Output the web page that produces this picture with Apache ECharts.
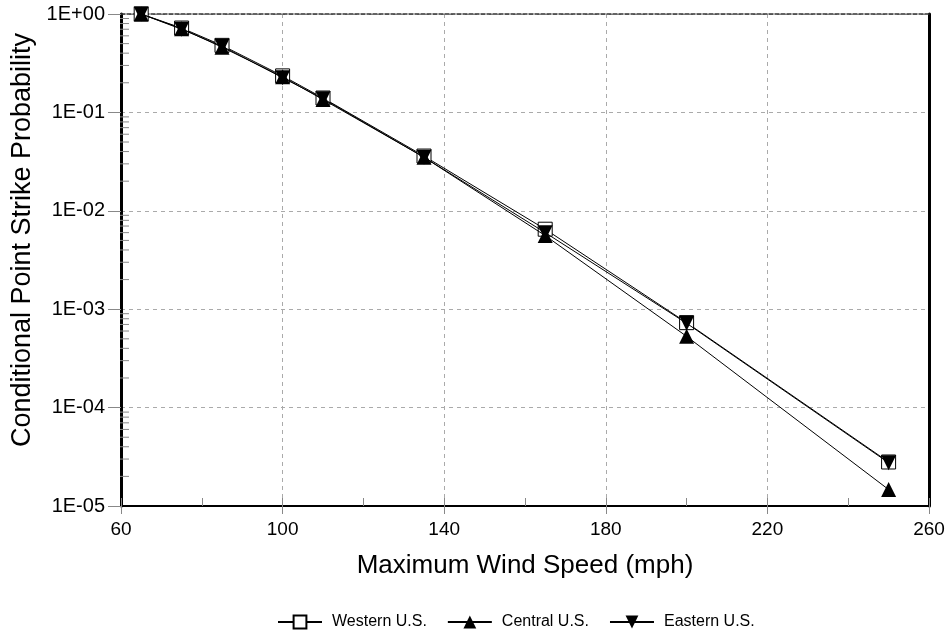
<!DOCTYPE html>
<html><head><meta charset="utf-8">
<script src="https://cdn.jsdelivr.net/npm/echarts@6/dist/echarts.min.js"></script>
<style>html,body{margin:0;padding:0;background:#fff}#c{width:951px;height:636px}</style>
</head><body><div id="c"></div>
<script>
var windSpeed = [65, 75, 85, 100, 110, 135, 165, 200, 250];
var western = [1, 0.72, 0.48, 0.235, 0.14, 0.036, 0.0065, 0.00073, 2.8e-5];
var central = [1, 0.71, 0.46, 0.23, 0.135, 0.035, 0.0056, 0.00053, 1.47e-5];
var eastern = [1, 0.70, 0.47, 0.225, 0.138, 0.035, 0.006, 0.00072, 2.75e-5];
var seriesNames = ['Western U.S.', 'Central U.S.', 'Eastern U.S.'];
var xTicks = [60, 100, 140, 180, 220, 260];
var yMin = 1e-5, yMax = 1;

var minorY = [];
for (var d = -5; d < 0; d++) for (var k = 2; k <= 9; k++) minorY.push([60, k * Math.pow(10, d)]);

function pair(xs, ys) { return xs.map(function (x, i) { return [x, ys[i]]; }); }
function fmtE(v) {
  var e = Math.round(Math.log10(v));
  var a = Math.abs(e);
  return '1E' + (e >= 0 ? '+' : '-') + (a < 10 ? '0' : '') + a;
}
var FONT = 'Liberation Sans';
var chart = echarts.init(document.getElementById('c'));
var lineStyle = { color: '#000', width: 1 };
chart.setOption({
  animation: false,
  textStyle: { fontFamily: FONT },
  grid: { left: 121, right: 22, top: 14, bottom: 130, show: false },
  legend: {
    top: 609, left: 272, itemWidth: 44, itemHeight: 16, itemGap: 20,
    textStyle: { fontFamily: FONT, fontSize: 16, color: '#000', padding: [0, 0, 0, 5] },
    data: seriesNames
  },
  xAxis: [{
    type: 'value', min: 60, max: 260, interval: 40, position: 'bottom',
    name: 'Maximum Wind Speed (mph)', nameLocation: 'middle', nameGap: 47,
    nameTextStyle: { fontFamily: FONT, fontSize: 26, color: '#000' },
    axisLine: { show: true, lineStyle: { color: '#000', width: 2 } },
    axisTick: { show: true, length: 8, lineStyle: { color: '#888', width: 1 } },
    axisLabel: { margin: 14, fontFamily: FONT, fontSize: 19, color: '#000' },
    splitLine: { show: true, lineStyle: { color: '#aaa', type: [4, 4], width: 1 } }
  }, {
    type: 'value', min: 60, max: 260, interval: 20, position: 'bottom',
    axisLine: { show: false }, axisLabel: { show: false }, splitLine: { show: false },
    axisTick: { show: true, inside: true, length: 8, lineStyle: { color: '#888', width: 1 } }
  }, {
    type: 'value', min: 60, max: 260, interval: 40, position: 'top',
    axisLine: { show: true, lineStyle: { color: '#333', width: 1.5, type: [4, 2] } },
    axisTick: { show: false }, axisLabel: { show: false }, splitLine: { show: false }
  }],
  yAxis: [{
    type: 'log', logBase: 10, min: yMin, max: yMax, position: 'left',
    name: 'Conditional Point Strike Probability', nameLocation: 'middle', nameGap: 84,
    nameTextStyle: { fontFamily: FONT, fontSize: 27, color: '#000', padding: [0, 0, 0, 40] },
    axisLine: { show: true, lineStyle: { color: '#000', width: 3 } },
    axisTick: { show: true, length: 13, lineStyle: { color: '#888', width: 1 } },
    axisLabel: { margin: 16, fontFamily: FONT, fontSize: 20, color: '#000', formatter: fmtE },
    splitLine: { show: true, lineStyle: { color: '#aaa', type: [4, 4], width: 1 } }
  }, {
    type: 'log', logBase: 10, min: yMin, max: yMax, position: 'right',
    axisLine: { show: true, lineStyle: { color: '#000', width: 3 } },
    axisTick: { show: false }, axisLabel: { show: false }, splitLine: { show: false }
  }],
  series: [{
    type: 'custom', name: 'minorTicks', silent: true, xAxisIndex: 0, yAxisIndex: 0,
    data: minorY, z: 1,
    renderItem: function (params, api) {
      var p = api.coord([api.value(0), api.value(1)]);
      return { type: 'line', shape: { x1: p[0] - 1, y1: p[1], x2: p[0] + 8, y2: p[1] },
        style: { stroke: '#888', lineWidth: 1 } };
    }
  }, {
    name: seriesNames[0], type: 'line', data: pair(windSpeed, western), z: 3,
    symbol: 'rect', symbolSize: 14, color: '#000',
    itemStyle: { color: '#fff', borderColor: '#000', borderWidth: 1 },
    lineStyle: lineStyle
  }, {
    name: seriesNames[1], type: 'line', data: pair(windSpeed, central), z: 4,
    symbol: 'triangle', symbolSize: 15, color: '#000',
    itemStyle: { color: '#000' }, lineStyle: lineStyle
  }, {
    name: seriesNames[2], type: 'line', data: pair(windSpeed, eastern), z: 5,
    symbol: 'triangle', symbolRotate: 180, symbolSize: 15, color: '#000',
    itemStyle: { color: '#000' }, lineStyle: lineStyle
  }]
});
</script></body></html>
